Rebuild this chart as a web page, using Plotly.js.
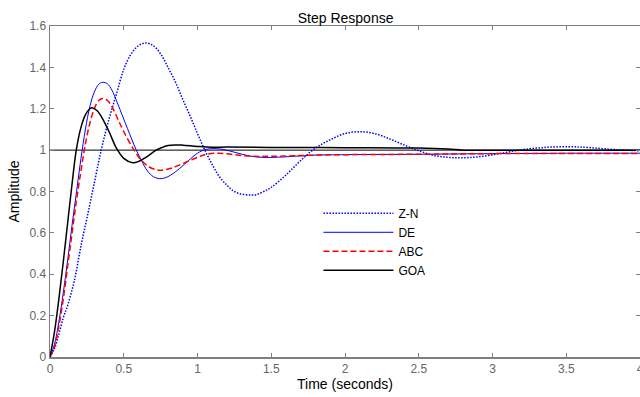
<!DOCTYPE html>
<html>
<head>
<meta charset="utf-8">
<script src="https://cdn.plot.ly/plotly-3.0.1.min.js"></script>
<style>html,body{margin:0;padding:0;background:#fff;}#chart{width:640px;height:397px;}</style>
</head>
<body>
<div id="chart"></div>
<script>
// Z-N (blue dotted)
var znT = [0, 0.03, 0.06, 0.09, 0.12, 0.166, 0.2, 0.218, 0.25, 0.3, 0.347, 0.4, 0.45, 0.5, 0.55, 0.6, 0.648, 0.7, 0.75, 0.8, 0.85, 0.9, 0.95, 1.0, 1.05, 1.1, 1.15, 1.2, 1.25, 1.3, 1.365, 1.4, 1.45, 1.5, 1.6, 1.7, 1.8, 1.9, 2.0, 2.1, 2.2, 2.3, 2.4, 2.5, 2.6, 2.7, 2.8, 2.9, 3.0, 3.1, 3.2, 3.3, 3.4, 3.55, 3.6, 3.7, 3.8, 3.9, 4.0];
var znY = [0, 0.04, 0.11, 0.19, 0.25, 0.372, 0.5, 0.566, 0.67, 0.84, 1.0, 1.15, 1.27, 1.39, 1.465, 1.505, 1.518, 1.505, 1.465, 1.40, 1.33, 1.245, 1.165, 1.08, 1.0, 0.93, 0.87, 0.83, 0.80, 0.787, 0.783, 0.785, 0.80, 0.82, 0.88, 0.95, 1.01, 1.05, 1.08, 1.089, 1.08, 1.055, 1.025, 0.997, 0.975, 0.965, 0.963, 0.967, 0.978, 0.99, 1.002, 1.01, 1.015, 1.016, 1.015, 1.01, 1.004, 1.0, 0.997];
// DE (blue solid)
var deT = [0, 0.03, 0.06, 0.09, 0.12, 0.15, 0.18, 0.21, 0.24, 0.27, 0.3, 0.33, 0.358, 0.39, 0.42, 0.45, 0.5, 0.55, 0.585, 0.62, 0.66, 0.7, 0.743, 0.78, 0.82, 0.88, 0.94, 1.0, 1.06, 1.15, 1.25, 1.35, 1.44, 1.55, 1.7, 1.8, 2.0, 2.5, 3.0, 3.5, 4.0];
var deY = [0, 0.06, 0.17, 0.31, 0.47, 0.64, 0.8, 0.96, 1.1, 1.21, 1.28, 1.318, 1.328, 1.32, 1.29, 1.24, 1.15, 1.06, 1.0, 0.95, 0.9, 0.872, 0.862, 0.866, 0.88, 0.912, 0.95, 0.985, 1.004, 1.006, 0.99, 0.972, 0.965, 0.966, 0.972, 0.976, 0.978, 0.98, 0.983, 0.985, 0.985];
// ABC (red dashed)
var abcT = [0, 0.03, 0.06, 0.09, 0.12, 0.15, 0.18, 0.21, 0.24, 0.27, 0.3, 0.33, 0.358, 0.39, 0.42, 0.46, 0.5, 0.57, 0.62, 0.67, 0.72, 0.76, 0.82, 0.9, 1.0, 1.06, 1.15, 1.25, 1.35, 1.5, 1.8, 2.0, 2.5, 3.0, 4.0];
var abcY = [0, 0.05, 0.15, 0.28, 0.44, 0.6, 0.76, 0.9, 1.03, 1.13, 1.2, 1.24, 1.25, 1.24, 1.21, 1.15, 1.09, 1.0, 0.95, 0.92, 0.905, 0.903, 0.912, 0.935, 0.965, 0.98, 0.985, 0.978, 0.971, 0.97, 0.976, 0.978, 0.98, 0.983, 0.984];
// GOA (black solid)
var goaT = [0, 0.03, 0.06, 0.09, 0.12, 0.15, 0.178, 0.21, 0.24, 0.27, 0.286, 0.32, 0.35, 0.4, 0.45, 0.5, 0.56, 0.6, 0.65, 0.72, 0.75, 0.8, 0.856, 0.9, 1.0, 1.1, 1.2, 1.5, 2.0, 2.5, 2.7, 2.8, 3.0, 4.0];
var goaY = [0, 0.12, 0.28, 0.46, 0.65, 0.84, 1.0, 1.11, 1.17, 1.2, 1.205, 1.19, 1.16, 1.09, 1.01, 0.96, 0.939, 0.945, 0.965, 1.0, 1.01, 1.022, 1.025, 1.024, 1.018, 1.014, 1.015, 1.013, 1.012, 1.01, 1.005, 1.0, 1.0, 1.0];
// unit step reference
var refT = [0, 4];
var refY = [1, 1];

var font = "'Liberation Sans', Arial, sans-serif";
var traces = [
  {x: refT, y: refY, mode: 'lines', line: {color: '#000', width: 1}, showlegend: false, hoverinfo: 'skip'},
  {x: znT, y: znY, name: 'Z-N', mode: 'lines', line: {color: '#0000ff', width: 1.5, dash: '1.5px,1.5px', shape: 'spline'}},
  {x: deT, y: deY, name: 'DE', mode: 'lines', line: {color: '#0000ff', width: 1, shape: 'spline'}},
  {x: abcT, y: abcY, name: 'ABC', mode: 'lines', line: {color: '#ff0000', width: 1.5, dash: '6px,3px', shape: 'spline'}},
  {x: goaT, y: goaY, name: 'GOA', mode: 'lines', line: {color: '#000000', width: 1.5, shape: 'spline'}}
];
var axisCommon = {
  showgrid: false, zeroline: false, showline: true, linecolor: '#808080', linewidth: 1.5,
  mirror: 'ticks', ticks: 'inside', ticklen: 4, tickcolor: '#808080', tickwidth: 1,
  ticklabeloverflow: 'allow',
  tickfont: {family: font, size: 12, color: '#666666'}
};
var layout = {
  width: 640, height: 397,
  margin: {l: 50, r: 0, t: 26, b: 40, pad: 0},
  paper_bgcolor: '#fff', plot_bgcolor: '#fff',
  title: {text: 'Step Response', font: {family: font, size: 14, color: '#000'}, x: 0.54, xanchor: 'center', y: 0.955, yanchor: 'middle'},
  xaxis: Object.assign({}, axisCommon, {range: [0, 4], dtick: 0.5, tick0: 0,
    title: {text: 'Time (seconds)', font: {family: font, size: 14, color: '#000'}, standoff: 4}}),
  yaxis: Object.assign({}, axisCommon, {range: [0, 1.6], dtick: 0.2, tick0: 0,
    title: {text: 'Amplitude', font: {family: font, size: 14, color: '#000'}, standoff: 6}}),
  showlegend: true,
  legend: {x: 0.455, y: 0.478, xanchor: 'left', yanchor: 'top', bgcolor: 'rgba(0,0,0,0)', borderwidth: 0,
    font: {family: font, size: 12, color: '#000'}, itemwidth: 70, tracegroupgap: 0}
};
Plotly.newPlot('chart', traces, layout, {displayModeBar: false, staticPlot: true});
</script>
</body>
</html>
